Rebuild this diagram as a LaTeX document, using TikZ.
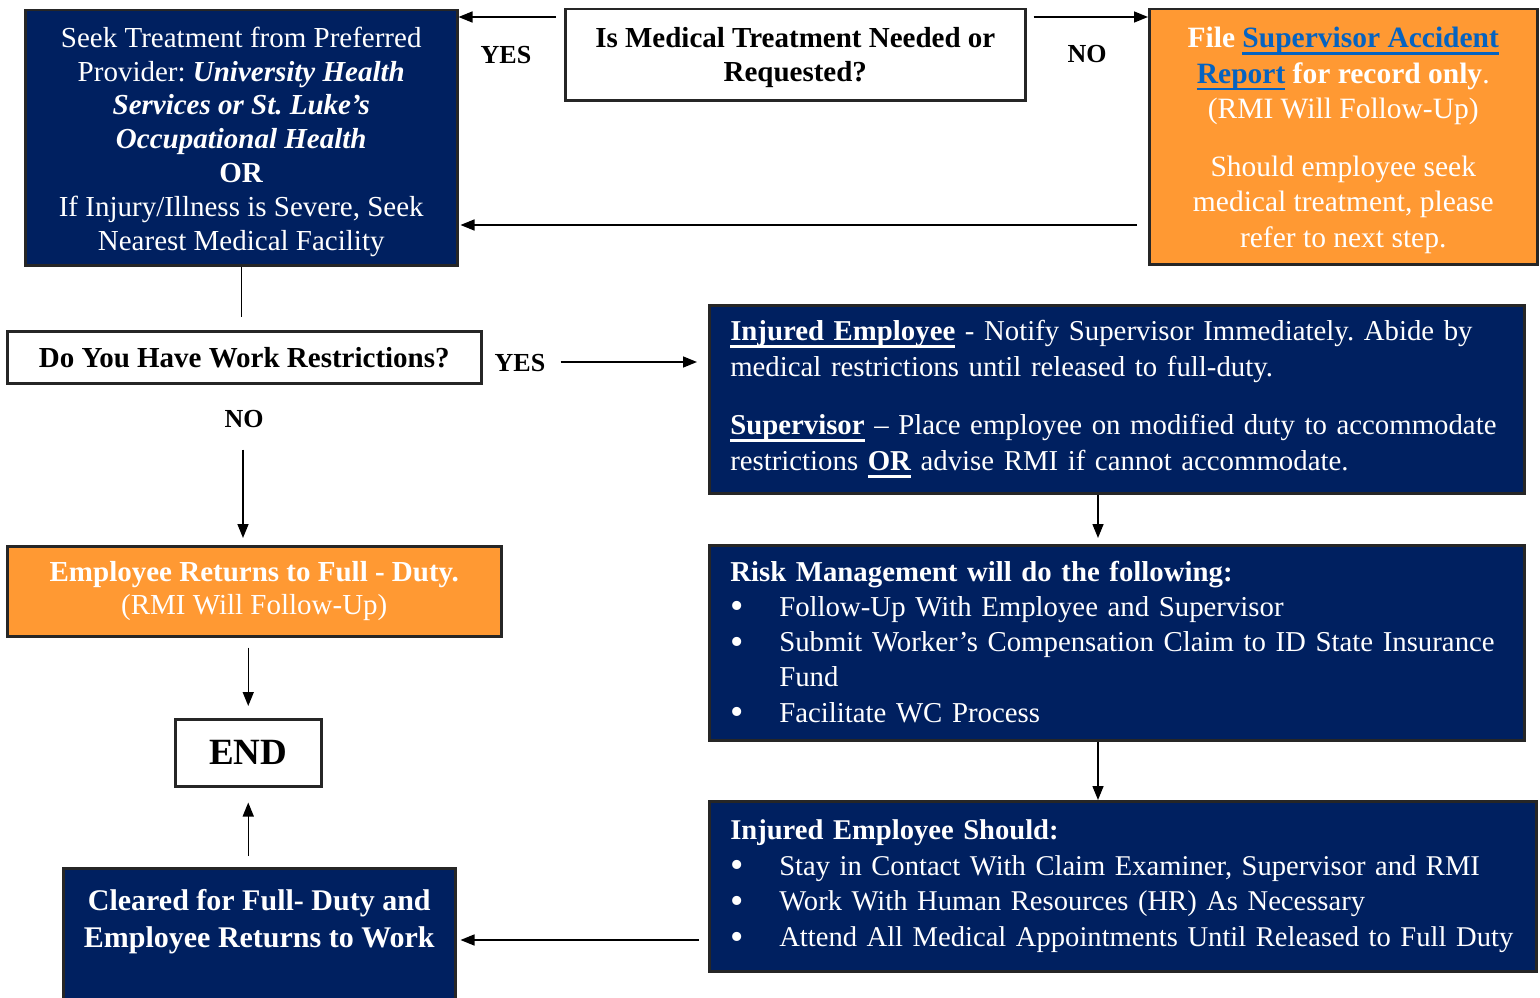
\documentclass[tikz,border=0pt]{standalone}
\usepackage{fontspec}
\setmainfont{Liberation Serif}
\usetikzlibrary{arrows.meta}
\definecolor{navy}{HTML}{002060}
\definecolor{orng}{HTML}{FF9933}
\definecolor{linkblue}{HTML}{0563C1}
\newcommand\fs[2]{\fontsize{#1}{#2}\selectfont}
\newcommand\bul{\makebox[49pt][l]{\hspace{0pt}\raisebox{-2.5pt}{\fontsize{38}{38}\selectfont\textbullet}}}
\newcommand\myul[1]{\leavevmode\setbox0=\hbox{#1}\rlap{\rule[-7pt]{\wd0}{2.4pt}}\box0}
\frenchspacing
\begin{document}
\begin{tikzpicture}[x=1pt,y=-1pt,
  box/.style={draw=black!85, line width=2.5pt, rectangle, anchor=north west, inner sep=0pt},
  navybox/.style={box, fill=navy, text=white},
  orbox/.style={box, fill=orng, text=white},
  whitebox/.style={box, fill=white, text=black},
  listbox/.style={navybox, inner xsep=21pt, align=left},
  arr/.style={line width=1.5pt, -{Triangle[length=14pt,width=11pt]}},
  plainline/.style={line width=1.5pt},
  lbl/.style={font=\fs{26}{30}\bfseries, inner sep=0pt},
]
\useasboundingbox (0,0) rectangle (1540,998);
\clip (0,0) rectangle (1540,998);
\fill[white] (0,0) rectangle (1540,998);

% top row
\node[navybox, minimum width=432pt, minimum height=255pt, align=center, font=\fs{29}{33.8}] (seek) at (24,9)
 {\rule{0pt}{28pt}Seek Treatment from Preferred\\
  Provider: \textbf{\textit{University Health}}\\
  \textbf{\textit{Services or St. Luke’s}}\\
  \textbf{\textit{Occupational Health}}\\
  \textbf{OR}\\
  If Injury/Illness is Severe, Seek\\
  Nearest Medical Facility};

\node[whitebox, minimum width=460pt, minimum height=91pt, align=center, font=\fs{29}{34}\bfseries] (q1) at (564,8)
 {\rule{0pt}{25pt}Is Medical Treatment Needed or\\Requested?};

\node[orbox, minimum width=388pt, minimum height=255pt, align=center, font=\fs{29.5}{35.5}] (file) at (1148,8)
 {\rule{0pt}{28pt}\textbf{File \textcolor{linkblue}{\myul{Supervisor Accident}}}\\
  \textbf{\textcolor{linkblue}{\myul{Report}} for record only}.\\
  (RMI Will Follow-Up)\\[22pt]
  Should employee seek\\
  medical treatment, please\\
  refer to next step.};

% left column
\node[whitebox, minimum width=474pt, minimum height=52pt, font=\fs{29}{34}\bfseries] (restr) at (6,330)
 {Do You Have Work Restrictions?};

\node[orbox, minimum width=494pt, minimum height=90pt, align=center, font=\fs{29}{33}] (ret) at (6,545)
 {\textbf{Employee Returns to Full - Duty.}\\(RMI Will Follow-Up)};

\node[whitebox, minimum width=146pt, minimum height=67pt, font=\fs{37}{40}\bfseries] (endn) at (174,718) {END};

\node[navybox, minimum width=392pt, minimum height=148pt, align=center, font=\fs{30}{37}\bfseries] (cleared) at (62,867)
 {Cleared for Full- Duty and\\Employee Returns to Work\\ \strut};

% right column
\node[listbox, text width=773pt, minimum height=188pt, font=\fs{28.8}{36}] (ie) at (708,304)
 {\mbox{\textbf{\myul{Injured Employee}} - Notify Supervisor Immediately. Abide by}\\
  \mbox{medical restrictions until released to full-duty.}\\[22pt]
  \mbox{\textbf{\myul{Supervisor}} – Place employee on modified duty to accommodate}\\
  \mbox{restrictions \textbf{\myul{OR}} advise RMI if cannot accommodate.}};

\node[listbox, text width=773pt, minimum height=195pt, font=\fs{28.8}{35.2}] (rm) at (708,544)
 {\mbox{\textbf{Risk Management will do the following:}}\\
  \mbox{\bul Follow-Up With Employee and Supervisor}\\
  \mbox{\bul Submit Worker’s Compensation Claim to ID State Insurance}\\
  \hspace*{49pt}Fund\\
  \mbox{\bul Facilitate WC Process}};

\node[listbox, text width=785pt, minimum height=170pt, font=\fs{28.6}{35.7}] (ies) at (708,800)
 {\mbox{\textbf{Injured Employee Should:}}\\
  \mbox{\bul Stay in Contact With Claim Examiner, Supervisor and RMI}\\
  \mbox{\bul Work With Human Resources (HR) As Necessary}\\
  \mbox{\bul Attend All Medical Appointments Until Released to Full Duty}};

% labels
\node[lbl] (yes1) at (506,55) {YES};
\node[lbl] (no1) at (1087,54) {NO};
\node[lbl] (yes2) at (520,363) {YES};
\node[lbl] (no2) at (244,419) {NO};

% helper coordinates
\coordinate (yT) at (0,17);
\coordinate (yB) at (0,225);
\coordinate (yY) at (0,362);
\coordinate (yC) at (0,940);
\coordinate (xR) at (1098,0);
\coordinate (xL) at (243,0);

% connectors
\draw[arr, shorten <=8pt] (q1.west |- yT) -- (seek.east |- yT);
\draw[arr, shorten <=7pt] (q1.east |- yT) -- (file.west |- yT);
\draw[arr, shorten <=11pt, shorten >=2pt] (file.west |- yB) -- (seek.east |- yB);
\draw[plainline, shorten >=13pt] (seek.south) -- (seek.south |- restr.north);
\draw[arr, shorten <=78pt, shorten >=11pt] (restr.east |- yY) -- (ie.west |- yY);
\draw[arr, shorten <=65pt, shorten >=7pt] (restr.south -| xL) -- (ret.north -| xL);
\draw[arr, shorten <=10pt, shorten >=12pt] (ret.south -| endn.north) -- (endn.north);
\draw[arr, shorten <=11pt, shorten >=15pt] (cleared.north -| endn.south) -- (endn.south);
\draw[arr, shorten <=9pt, shorten >=4pt] (ies.west |- yC) -- (cleared.east |- yC);
\draw[arr, shorten >=6pt] (ie.south -| xR) -- (rm.north -| xR);
\draw[arr] (rm.south -| xR) -- (ies.north -| xR);
\end{tikzpicture}
\end{document}
